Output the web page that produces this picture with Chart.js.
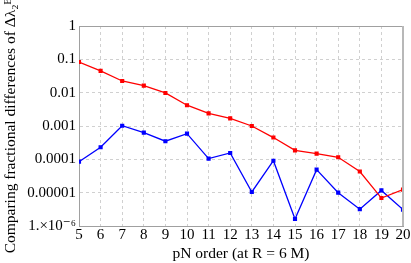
<!DOCTYPE html>
<html>
<head>
<meta charset="utf-8">
<script src="https://cdn.jsdelivr.net/npm/chart.js@4"></script>
<style>
  html, body { margin: 0; padding: 0; background: #fff; }
  #wrap { width: 411px; height: 263px; }
</style>
</head>
<body>
<div id="wrap"><canvas id="chart" width="411" height="263"></canvas></div>
<script>
// Data
const pnOrders = [5, 6, 7, 8, 9, 10, 11, 12, 13, 14, 15, 16, 17, 18, 19, 20];
const redSeries = [0.083, 0.045, 0.0224, 0.0162, 0.0098, 0.0042, 0.0024, 0.0017, 0.001, 0.00045,
                   0.000186, 0.000148, 0.000115, 0.000043, 0.0000069, 0.0000123];
const blueSeries = [0.000085, 0.00023, 0.00102, 0.00063, 0.00035, 0.00059, 0.000105, 0.000155,
                    0.0000105, 0.000091, 0.00000162, 0.000049, 0.00001, 0.0000032, 0.0000117, 0.0000031];
const yTickValues = [1e-6, 1e-5, 1e-4, 1e-3, 1e-2, 1e-1, 1];
const yTickLabels = ['1.\u00d710\u207b\u2076', '0.00001', '0.0001', '0.001', '0.01', '0.1', '1'];

const serif = '"Liberation Serif", "DejaVu Serif", serif';

// Frame on top and right of the plot
const framePlugin = {
    id: 'frame',
    afterDraw(chart) {
        const a = chart.chartArea;
        const ctx = chart.ctx;
        ctx.save();
        ctx.strokeStyle = '#a0a0a0';
        ctx.lineWidth = 1;
        ctx.beginPath();
        ctx.moveTo(a.left, a.top + 0.5);
        ctx.lineTo(a.right, a.top + 0.5);
        ctx.stroke();
        ctx.strokeStyle = '#b8b8b8';
        ctx.lineWidth = 2;
        ctx.beginPath();
        ctx.moveTo(a.right, a.top);
        ctx.lineTo(a.right, a.bottom);
        ctx.stroke();
        ctx.restore();
    }
};

const ctx = document.getElementById('chart').getContext('2d');
new Chart(ctx, {
    type: 'line',
    data: {
        datasets: [
            {
                data: pnOrders.map((x, i) => ({x, y: redSeries[i]})),
                borderColor: '#ff0000',
                backgroundColor: '#ff0000',
                borderWidth: 1.3,
                pointStyle: 'rect',
                pointRadius: 2,
                tension: 0
            },
            {
                data: pnOrders.map((x, i) => ({x, y: blueSeries[i]})),
                borderColor: '#0000ff',
                backgroundColor: '#0000ff',
                borderWidth: 1.3,
                pointStyle: 'rect',
                pointRadius: 2,
                tension: 0
            }
        ]
    },
    options: {
        responsive: false,
        animation: false,
        layout: { padding: { top: 26, right: 8, left: 0, bottom: 0 } },
        plugins: {
            legend: { display: false },
            tooltip: { enabled: false }
        },
        scales: {
            x: {
                type: 'linear',
                min: 5,
                max: 20,
                afterBuildTicks: scale => {
                    scale.ticks = pnOrders.map(v => ({value: v}));
                },
                afterFit: scale => { scale.height = 37; },
                grid: { color: '#d0d0d0', drawTicks: false },
                border: { color: '#a0a0a0', width: 1, dash: [3, 3] },
                ticks: {
                    color: '#000',
                    font: { family: serif, size: 15 },
                    padding: 0,
                    maxRotation: 0,
                    autoSkip: false
                },
                title: {
                    display: true,
                    text: 'pN order (at R = 6 M)',
                    color: '#000',
                    font: { family: serif, size: 15.5 },
                    padding: { top: 0, bottom: 0 }
                }
            },
            y: {
                type: 'logarithmic',
                min: 1e-6,
                max: 1,
                afterBuildTicks: scale => {
                    scale.ticks = yTickValues.map(v => ({value: v}));
                },
                afterFit: scale => { scale.width = 79; },
                grid: { color: '#d0d0d0', drawTicks: false },
                border: { color: '#a0a0a0', width: 1, dash: [3, 3] },
                ticks: {
                    color: '#000',
                    font: { family: serif, size: 15 },
                    padding: 3,
                    callback: (value) => {
                        const i = yTickValues.findIndex(v => Math.abs(Math.log10(v) - Math.log10(value)) < 1e-6);
                        return i >= 0 ? yTickLabels[i] : '';
                    }
                },
                title: {
                    display: true,
                    text: 'Comparing fractional differences of \u0394\u03bb\u2082\u1d31',
                    color: '#000',
                    font: { family: serif, size: 15.5 },
                    padding: { top: 2, bottom: 0 }
                }
            }
        }
    },
    plugins: [framePlugin]
});
</script>
</body>
</html>
